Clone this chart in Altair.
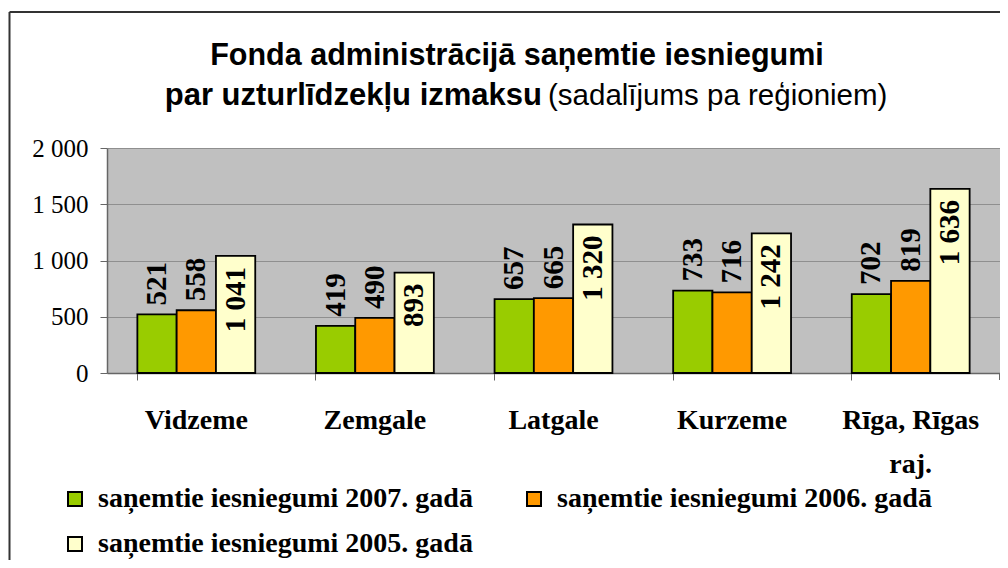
import altair as alt
import pandas as pd

regions = ["Vidzeme", "Zemgale", "Latgale", "Kurzeme", "Rīga, Rīgas raj."]
series = [
    "saņemtie iesniegumi 2007. gadā",
    "saņemtie iesniegumi 2006. gadā",
    "saņemtie iesniegumi 2005. gadā",
]
v2007 = [521, 419, 657, 733, 702]
v2006 = [558, 490, 665, 716, 819]
v2005 = [1041, 893, 1320, 1242, 1636]
colors = ["#99CC00", "#FF9900", "#FFFFCC"]
y_ticks = [0, 500, 1000, 1500, 2000]

title_line1 = "Fonda administrācijā saņemtie iesniegumi"
title_line2_bold = "par uzturlīdzekļu izmaksu"
title_line2_norm = "(sadalījums pa reģioniem)"

rows = []
for s, vals in zip(series, [v2007, v2006, v2005]):
    for r, v in zip(regions, vals):
        rows.append({"region": r, "series": s, "value": v})
df = pd.DataFrame(rows)

SERIF = "Liberation Serif"
SANS = "Liberation Sans"

x_enc = alt.X(
    "region:N",
    sort=regions,
    scale=alt.Scale(paddingInner=0.34, paddingOuter=0.17),
    axis=alt.Axis(
        title=None,
        labelAngle=0,
        labelFont=SERIF,
        labelFontSize=28,
        labelFontWeight="bold",
        labelColor="black",
        labelPadding=26,
        labelLineHeight=44,
        labelLimit=0,
        labelExpr="datum.label == 'Rīga, Rīgas raj.' ? ['Rīga, Rīgas', 'raj.'] : datum.label",
        bandPosition=0,
        tickSize=7,
        tickColor="#666666",
        domainColor="#666666",
        domainWidth=1.5,
        grid=False,
    ),
)
xoff_enc = alt.XOffset("series:N", sort=series)
y_enc = alt.Y(
    "value:Q",
    scale=alt.Scale(domain=[0, 2000], nice=False),
    axis=alt.Axis(
        title=None,
        values=y_ticks,
        labelExpr="replace(format(datum.value, ','), ',', ' ')",
        labelFont=SERIF,
        labelFontSize=25,
        labelColor="black",
        labelPadding=12,
        tickSize=7,
        tickColor="#666666",
        domainColor="#666666",
        domainWidth=1.5,
        grid=True,
        gridColor="#8f8f8f",
        gridWidth=1,
    ),
)

base = alt.Chart(df)

bars = base.mark_bar().encode(
    x=x_enc,
    xOffset=xoff_enc,
    y=y_enc,
    stroke=alt.value("black"),
    strokeWidth=alt.value(1.8),
    fill=alt.Fill(
        "series:N",
        sort=series,
        scale=alt.Scale(domain=series, range=colors),
        legend=alt.Legend(
            title=None,
            orient="none",
            legendX=-46,
            legendY=337,
            columns=2,
            direction="horizontal",
            symbolType="square",
            symbolSize=196,
            symbolStrokeColor="black",
            symbolStrokeWidth=2,
            labelFont=SERIF,
            labelFontSize=28,
            labelFontWeight="bold",
            labelColor="black",
            labelOffset=9,
            labelLimit=0,
            columnPadding=47,
            rowPadding=17,
            padding=0,
        ),
    ),
)

label_expr = "replace(format(datum.value, ','), ',', ' ')"

labels_out = (
    base.transform_filter(alt.datum.series != series[2])
    .transform_calculate(lbl=label_expr)
    .mark_text(angle=270, align="left", baseline="middle", dx=9,
               font=SERIF, fontSize=29, fontWeight="bold", color="black")
    .encode(x=alt.X("region:N", sort=regions), xOffset=xoff_enc,
            y=alt.Y("value:Q"), text="lbl:N")
)
labels_in = (
    base.transform_filter(alt.datum.series == series[2])
    .transform_calculate(lbl=label_expr)
    .mark_text(angle=270, align="right", baseline="middle", dx=-11,
               font=SERIF, fontSize=29, fontWeight="bold", color="black")
    .encode(x=alt.X("region:N", sort=regions), xOffset=xoff_enc,
            y=alt.Y("value:Q"), text="lbl:N")
)

one = alt.Data(values=[{}])
t1 = alt.Chart(one).mark_text(font=SANS, fontSize=30.5, fontWeight="bold",
                              align="center", baseline="alphabetic", color="black").encode(
    x=alt.value(410), y=alt.value(-83), text=alt.value(title_line1))
t2 = alt.Chart(one).mark_text(font=SANS, fontSize=31, fontWeight="bold",
                              align="right", baseline="alphabetic", color="black").encode(
    x=alt.value(435), y=alt.value(-43), text=alt.value(title_line2_bold))
t3 = alt.Chart(one).mark_text(font=SANS, fontSize=29.5, fontWeight="normal",
                              align="left", baseline="alphabetic", color="black").encode(
    x=alt.value(441), y=alt.value(-43), text=alt.value(title_line2_norm))

frame_v = alt.Chart(one).mark_rule(color="#333333", strokeWidth=2).encode(
    x=alt.value(-97.5), y=alt.value(-136), y2=alt.value(470))
frame_h = alt.Chart(one).mark_rule(color="#333333", strokeWidth=2).encode(
    x=alt.value(-97.5), x2=alt.value(900), y=alt.value(-136))
end_tick = alt.Chart(one).mark_rule(color="#666666", strokeWidth=1).encode(
    x=alt.value(892.5), y=alt.value(225), y2=alt.value(232))

chart = (
    alt.layer(bars, labels_out, labels_in, t1, t2, t3, frame_v, frame_h, end_tick)
    .properties(
        width=893,
        height=225,
        padding={"left": 99, "top": 140, "right": 0, "bottom": 187},
        autosize=alt.AutoSizeParams(type="none"),
        background="white",
    )
    .configure_view(fill="#C0C0C0", stroke="transparent")
)

chart.save("out.html", embed_options={"renderer": "svg", "actions": False})
